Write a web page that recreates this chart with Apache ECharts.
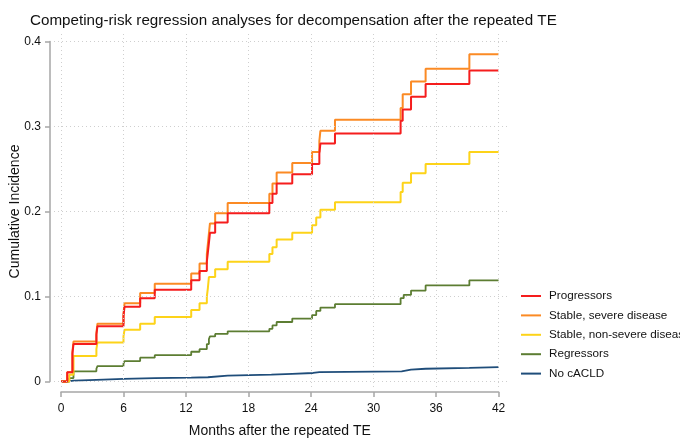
<!DOCTYPE html>
<html lang="en">
<head>
    <meta charset="UTF-8">
    <script src="https://cdn.jsdelivr.net/npm/echarts@6/dist/echarts.min.js"></script>
    <style>
        html, body { margin: 0; padding: 0; background: #fff; }
        #chart { width: 680px; height: 438px; }
    </style>
</head>
<body>
<div id="chart"></div>
<script>
    // [month, cumulative incidence]
    var progressors = [[0,0],[0.6,0.011],[1.1,0.033],[1.2,0.044],[3.4,0.055],[3.5,0.065],[6.0,0.077],[6.1,0.088],[7.6,0.098],[9.0,0.108],[12.5,0.119],[13.3,0.130],[14.0,0.141],[14.1,0.152],[14.2,0.163],[14.3,0.175],[14.8,0.187],[16.0,0.198],[20.0,0.21],[20.3,0.221],[20.7,0.233],[22.2,0.244],[24.1,0.256],[24.8,0.268],[24.9,0.28],[26.3,0.292],[32.6,0.307],[32.8,0.32],[33.6,0.335],[35.0,0.35],[39.2,0.366],[42,0.366]];
    var stableSevere = [[0,0],[0.6,0.011],[1.1,0.035],[1.2,0.047],[3.4,0.057],[3.5,0.068],[6.0,0.080],[6.1,0.092],[7.6,0.104],[9.0,0.115],[12.5,0.127],[13.3,0.139],[14.0,0.150],[14.1,0.162],[14.2,0.174],[14.3,0.186],[14.8,0.198],[16.0,0.21],[20.0,0.221],[20.3,0.233],[20.7,0.246],[22.2,0.257],[24.1,0.27],[24.8,0.283],[24.9,0.295],[26.3,0.308],[32.6,0.322],[32.8,0.338],[33.6,0.353],[35.0,0.368],[39.2,0.385],[42,0.385]];
    var stableNonSevere = [[0,0],[0.8,0.008],[1.2,0.03],[3.4,0.038],[3.5,0.046],[6.0,0.053],[6.1,0.061],[7.6,0.068],[9.0,0.076],[12.5,0.084],[13.3,0.092],[14.0,0.100],[14.1,0.110],[14.2,0.123],[14.8,0.132],[16.0,0.141],[20.0,0.15],[20.3,0.158],[20.7,0.167],[22.2,0.175],[24.1,0.184],[24.5,0.193],[24.9,0.202],[26.3,0.211],[32.6,0.223],[32.8,0.234],[33.6,0.245],[35.0,0.256],[39.2,0.27],[42,0.27]];
    var regressors = [[0,0],[0.8,0.004],[1.2,0.012],[3.4,0.015],[3.5,0.018],[6.0,0.021],[6.1,0.024],[7.6,0.028],[9.0,0.031],[12.5,0.035],[13.3,0.038],[14.0,0.044],[14.2,0.05],[14.3,0.053],[14.8,0.056],[16.0,0.059],[20.0,0.062],[20.3,0.066],[20.7,0.07],[22.2,0.074],[24.1,0.078],[24.5,0.083],[24.9,0.087],[26.3,0.091],[32.6,0.098],[32.9,0.102],[33.6,0.107],[35.0,0.113],[39.2,0.119],[42,0.119]];
    var noCACLD = [[0,0],[0.7,0.001],[1.2,0.002],[3.4,0.003],[6.0,0.004],[9.0,0.0045],[12.5,0.005],[14.1,0.007],[16.0,0.008],[20.2,0.009],[22.2,0.010],[24.2,0.011],[24.8,0.012],[32.7,0.014],[33.6,0.015],[35.0,0.016],[39.2,0.017],[42,0.017]];

    var groupNames = ['Progressors', 'Stable, severe disease', 'Stable, non-severe disease', 'Regressors', 'No cACLD'];
    var groupColors = ['#f51d1d', '#fb8a24', '#fdd319', '#5c7d32', '#1f4d7a'];
    var xTicks = [0, 6, 12, 18, 24, 30, 36, 42];
    var yTicks = [0, 0.1, 0.2, 0.3, 0.4];

    var chart = echarts.init(document.getElementById('chart'));
    var font = 'Liberation Sans, Arial, sans-serif';

    function curve(i, data, width) {
        return {
            name: groupNames[i],
            type: 'line',
            xAxisIndex: 0,
            yAxisIndex: 0,
            step: 'end',
            symbol: 'none',
            z: 3,
            clip: false,
            lineStyle: { color: groupColors[i], width: width },
            itemStyle: { color: groupColors[i] },
            data: data
        };
    }

    var gridLines = [];
    xTicks.forEach(function (v) { gridLines.push({ xAxis: v }); });
    yTicks.forEach(function (v) { gridLines.push({ yAxis: v }); });

    var option = {
        backgroundColor: '#fff',
        animation: false,
        textStyle: { fontFamily: font },
        title: {
            text: 'Competing-risk regression analyses for decompensation after the repeated TE',
            left: 25,
            top: 8,
            textStyle: { fontSize: 15.2, fontWeight: 'normal', color: '#111', fontFamily: font }
        },
        legend: {
            orient: 'vertical',
            left: 516,
            top: 285,
            itemWidth: 20,
            itemHeight: 2,
            itemGap: 7.4,
            icon: 'rect',
            data: groupNames,
            textStyle: { fontSize: 11.7, color: '#111', padding: [0, 0, 0, 3], width: 200, overflow: 'none' }
        },
        grid: [
            // plot region (slightly wider than the axis ranges)
            { left: 54, right: 170, top: 31, bottom: 51, outerBoundsMode: 'none', containLabel: false },
            // axes region
            { left: 61, width: 437.6, top: 41.5, height: 340, outerBoundsMode: 'none', containLabel: false }
        ],
        xAxis: [
            { gridIndex: 0, type: 'value', min: -0.67, max: 43.1, show: false },
            {
                gridIndex: 1, type: 'value', min: 0, max: 42, interval: 6,
                offset: 10.5,
                name: 'Months after the repeated TE',
                nameLocation: 'middle',
                nameGap: 32,
                nameMoveOverlap: false,
                nameTextStyle: { fontSize: 14, color: '#111' },
                axisLine: { onZero: false, lineStyle: { color: '#a6a6a6', width: 1.5 } },
                axisTick: { length: 5, lineStyle: { color: '#a6a6a6', width: 1.5 } },
                axisLabel: { fontSize: 12, color: '#111', margin: 11 },
                splitLine: { show: false }
            }
        ],
        yAxis: [
            { gridIndex: 0, type: 'value', min: -0.0065, max: 0.4125, show: false },
            {
                gridIndex: 1, type: 'value', min: 0, max: 0.4, interval: 0.1,
                offset: 11,
                name: 'Cumulative Incidence',
                nameLocation: 'middle',
                nameGap: 28,
                nameMoveOverlap: false,
                nameTextStyle: { fontSize: 14, color: '#111' },
                axisLine: { show: true, onZero: false, lineStyle: { color: '#a6a6a6', width: 1.5 } },
                axisTick: { show: true, length: 5, lineStyle: { color: '#a6a6a6', width: 1.5 } },
                axisLabel: {
                    fontSize: 12, color: '#111', margin: 9,
                    formatter: function (v) { return v === 0 ? '0' : v.toFixed(1); }
                },
                splitLine: { show: false }
            }
        ],
        series: [
            {
                name: 'grid',
                type: 'line',
                xAxisIndex: 0,
                yAxisIndex: 0,
                data: [],
                z: 1,
                silent: true,
                markLine: {
                    silent: true,
                    symbol: 'none',
                    label: { show: false },
                    lineStyle: { color: '#cfcfcf', type: [1, 3], width: 1 },
                    data: gridLines
                }
            },
            curve(4, noCACLD, 1.8),
            curve(3, regressors, 1.8),
            curve(2, stableNonSevere, 2),
            curve(1, stableSevere, 2),
            curve(0, progressors, 2)
        ]
    };

    chart.setOption(option);
</script>
</body>
</html>
